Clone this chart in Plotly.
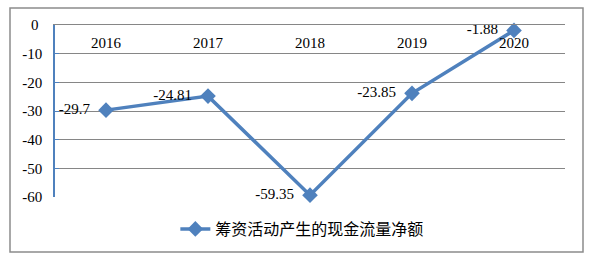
import plotly.graph_objects as go

years = ["2016", "2017", "2018", "2019", "2020"]
values = [-29.7, -24.81, -59.35, -23.85, -1.88]
labels = ["-29.7", "-24.81", "-59.35", "-23.85", "-1.88"]
y_ticks = [0, -10, -20, -30, -40, -50, -60]
series_name = "筹资活动产生的现金流量净额"

SERIF = "Liberation Serif, Times New Roman, serif"

fig = go.Figure()
fig.add_trace(go.Scatter(
    x=years, y=values, mode="lines+markers+text", name=series_name,
    text=[t + "\u00a0\u00a0" for t in labels], textposition="middle left",
    textfont=dict(family=SERIF, size=15, color="#000000"),
    line=dict(color="#4f81bd", width=3.5),
    marker=dict(symbol="diamond", size=12, color="#4f81bd"),
    cliponaxis=False,
))

L, R, T, B = 55, 36, 25, 61
W, H = 601, 258
pw, ph = W - L - R, H - T - B

fig.update_layout(
    width=W, height=H,
    margin=dict(l=L, r=R, t=T, b=B),
    paper_bgcolor="white", plot_bgcolor="white",
    showlegend=True,
    legend=dict(orientation="h", x=0.485, xanchor="center", y=(197 - 229) / ph, yanchor="middle",
                font=dict(family="Noto Sans CJK SC", size=16, color="#000000")),
    xaxis=dict(type="category", side="top", range=[-0.5, 4.5], showline=True, linecolor="#868686",
               linewidth=1, ticks="", ticklabelposition="inside", ticklabelstandoff=12,
               showgrid=False, zeroline=False,
               tickfont=dict(family=SERIF, size=15, color="#000000")),
    yaxis=dict(range=[-60, 0.001], tickvals=y_ticks,
               ticktext=[str(v) for v in y_ticks],
               showgrid=True, gridcolor="#868686", gridwidth=1,
               showline=True, linecolor="#4f81bd", linewidth=1.5, ticks="inside", ticklen=4,
               tickcolor="#4f81bd", zeroline=False, ticklabelstandoff=8,
               tickfont=dict(family=SERIF, size=15, color="#000000")),
    annotations=[dict(text=str(y_ticks[0]), xref="paper", yref="y", x=0, y=y_ticks[0],
                      xanchor="right", yanchor="middle", xshift=-14, showarrow=False,
                      font=dict(family=SERIF, size=15, color="#000000"))],
    shapes=[dict(type="rect", xref="paper", yref="paper",
                 x0=(10 - L) / pw, x1=(583 - L) / pw,
                 y0=-(252 - (T + ph)) / ph, y1=1 + (T - 8) / ph,
                 line=dict(color="#8c8c8c", width=1.5), fillcolor="rgba(0,0,0,0)")],
)

fig.write_html("out.html")
